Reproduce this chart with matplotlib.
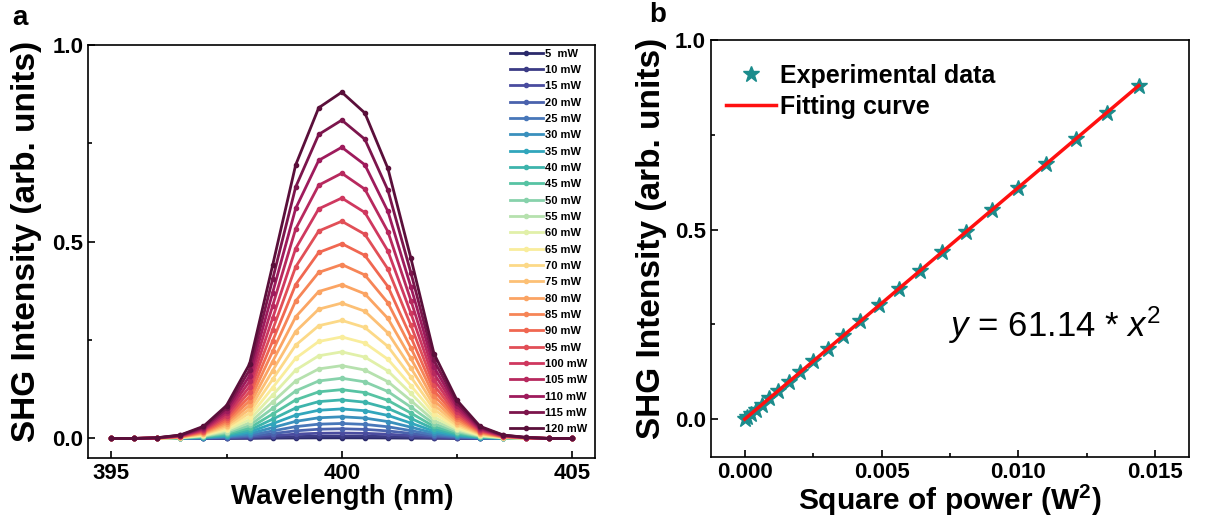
import numpy as np
import matplotlib
matplotlib.use("Agg")
import matplotlib.pyplot as plt
from matplotlib.colors import LinearSegmentedColormap
from matplotlib.ticker import MultipleLocator

plt.rcParams['font.family'] = ['Liberation Sans', 'DejaVu Sans']
plt.rcParams['font.weight'] = 'bold'
plt.rcParams['axes.linewidth'] = 1.2
plt.rcParams['mathtext.fontset'] = 'custom'
plt.rcParams['mathtext.rm'] = 'Liberation Sans'
plt.rcParams['mathtext.it'] = 'Liberation Sans:italic:normal'
plt.rcParams['mathtext.bf'] = 'Liberation Sans:bold'

# excitation powers (mW) and peak SHG intensity at 400 nm
powers = [5, 10, 15, 20, 25, 30, 35, 40, 45, 50, 55, 60,
          65, 70, 75, 80, 85, 90, 95, 100, 105, 110, 115, 120]
peaks = [0.0015, 0.006, 0.0138, 0.0245, 0.038, 0.055, 0.075, 0.098,
         0.124, 0.153, 0.185, 0.220, 0.258, 0.300, 0.344, 0.391,
         0.442, 0.495, 0.552, 0.611, 0.674, 0.740, 0.809, 0.880]

# spectral grid and normalised line shape of the SHG peak
wavelength = [395.0, 395.5, 396.0, 396.5, 397.0, 397.5, 398.0, 398.5, 399.0,
              399.5, 400.0, 400.5, 401.0, 401.5, 402.0, 402.5, 403.0, 403.5,
              404.0, 404.5, 405.0]
line_shape = [0.0, 0.0, 0.002, 0.010, 0.035, 0.095, 0.215, 0.50, 0.79,
              0.955, 1.0, 0.94, 0.78, 0.52, 0.245, 0.11, 0.035, 0.010,
              0.003, 0.0, 0.0]

fit_slope = 61.14

anchors = ['#2b2a6b', '#4a4b9e', '#4a74b9', '#2fa3bf', '#45bea0', '#a3dbb0',
           '#f7f7a6', '#fdd080', '#fb9a5c', '#ef6150', '#cd3560', '#9c1a5c',
           '#5a0f3a']
cmap = LinearSegmentedColormap.from_list('shg', anchors)

fig = plt.figure(figsize=(12.25, 5.29), dpi=100)
ax1 = fig.add_axes([0.072, 0.134, 0.414, 0.781])
ax2 = fig.add_axes([0.580, 0.136, 0.391, 0.788])

wl = np.array(wavelength)
shape = np.array(line_shape)
for i, (p, pk) in enumerate(zip(powers, peaks)):
    label = f'{p}  mW' if p < 10 else f'{p} mW'
    ax1.plot(wl, pk * shape, '-o', color=cmap(i / (len(powers) - 1)),
             lw=2, ms=3, label=label)

ax1.set_xlim(394.5, 405.5)
ax1.set_ylim(-0.05, 1.0)
ax1.xaxis.set_major_locator(MultipleLocator(5))
ax1.xaxis.set_minor_locator(MultipleLocator(2.5))
ax1.yaxis.set_major_locator(MultipleLocator(0.5))
ax1.yaxis.set_minor_locator(MultipleLocator(0.25))
ax1.set_xlabel('Wavelength (nm)', fontsize=20, fontweight='bold', labelpad=0)
ax1.set_ylabel('SHG Intensity (arb. units)', fontsize=24, fontweight='bold')
ax1.yaxis.set_label_coords(-0.092, 0.525)
ax1.legend(loc='upper right', bbox_to_anchor=(1.0, 1.01), frameon=False,
           fontsize=8, handlelength=3.0, labelspacing=0.57,
           handletextpad=0.2, borderaxespad=0.3)
ax1.text(-0.15, 1.035, 'a', transform=ax1.transAxes, fontsize=20,
         fontweight='bold', va='bottom')

# power squared in W^2
x_sq = [(p / 1000) ** 2 for p in powers]
ax2.plot(x_sq, peaks, '*', color='#1b8c8c', ms=12, ls='none',
         label='Experimental data', zorder=2)
x_fit = np.linspace(0, max(x_sq), 50)
ax2.plot(x_fit, fit_slope * x_fit, color='#ff1010', lw=2.5,
         label='Fitting curve', zorder=3)
ax2.set_xlim(-0.00125, 0.01625)
ax2.set_ylim(-0.1, 1.0)
ax2.xaxis.set_major_locator(MultipleLocator(0.005))
ax2.xaxis.set_minor_locator(MultipleLocator(0.0025))
ax2.yaxis.set_major_locator(MultipleLocator(0.5))
ax2.yaxis.set_minor_locator(MultipleLocator(0.25))
ax2.xaxis.set_major_formatter(plt.FormatStrFormatter('%.3f'))
ax2.set_xlabel('Square of power (W$^\\mathbf{2}$)', fontsize=21.5,
               fontweight='bold', labelpad=0)
ax2.set_ylabel('SHG Intensity (arb. units)', fontsize=24, fontweight='bold')
ax2.yaxis.set_label_coords(-0.09, 0.525)
ax2.legend(loc='upper left', bbox_to_anchor=(0.0, 0.98), frameon=False,
           fontsize=18, handlelength=2.0, handletextpad=0.2, labelspacing=0.3,
           borderaxespad=0.3, borderpad=0.3)
ax2.text(0.72, 0.316, '$y$ = 61.14 * $x^\\mathregular{2}$', transform=ax2.transAxes,
         fontsize=25, fontweight='normal', ha='center', va='center')
ax2.text(-0.127, 1.03, 'b', transform=ax2.transAxes, fontsize=20,
         fontweight='bold', va='bottom')

for ax in (ax1, ax2):
    ax.tick_params(which='both', direction='in', labelsize=16)
    ax.tick_params(which='major', length=5, width=1.2)
    ax.tick_params(which='minor', length=3, width=1.2)
    for lab in ax.get_xticklabels() + ax.get_yticklabels():
        lab.set_fontweight('bold')

fig.savefig('out.png', dpi=100)
